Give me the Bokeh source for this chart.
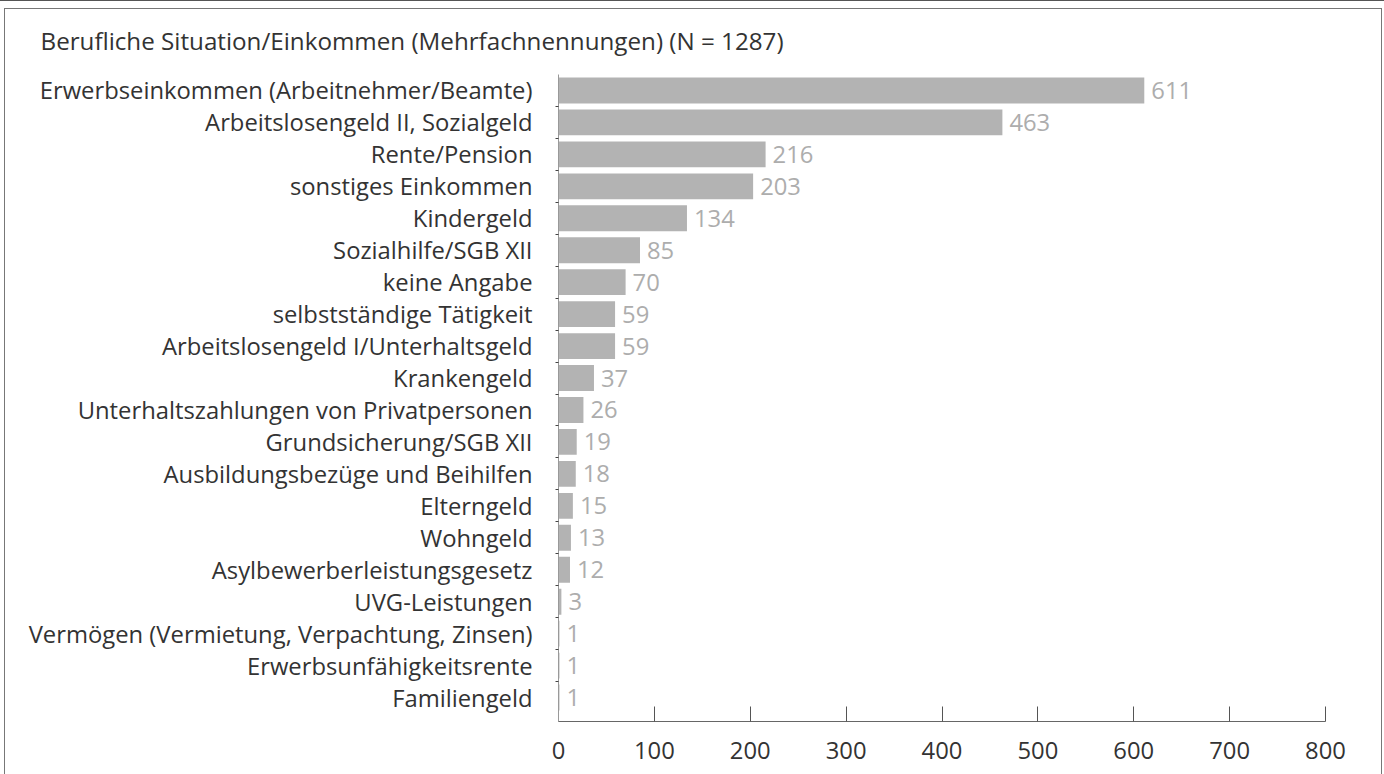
from bokeh.plotting import figure
from bokeh.models import FixedTicker, Range1d, ColumnDataSource
from bokeh.core.properties import value
from bokeh.embed import file_html
from bokeh.resources import INLINE

title_text = "Berufliche Situation/Einkommen (Mehrfachnennungen) (N = 1287)"
categories = [
    "Erwerbseinkommen (Arbeitnehmer/Beamte)",
    "Arbeitslosengeld II, Sozialgeld",
    "Rente/Pension",
    "sonstiges Einkommen",
    "Kindergeld",
    "Sozialhilfe/SGB XII",
    "keine Angabe",
    "selbstständige Tätigkeit",
    "Arbeitslosengeld I/Unterhaltsgeld",
    "Krankengeld",
    "Unterhaltszahlungen von Privatpersonen",
    "Grundsicherung/SGB XII",
    "Ausbildungsbezüge und Beihilfen",
    "Elterngeld",
    "Wohngeld",
    "Asylbewerberleistungsgesetz",
    "UVG-Leistungen",
    "Vermögen (Vermietung, Verpachtung, Zinsen)",
    "Erwerbsunfähigkeitsrente",
    "Familiengeld",
]
counts = [611, 463, 216, 203, 134, 85, 70, 59, 59, 37, 26, 19, 18, 15, 13, 12, 3, 1, 1, 1]
x_ticks = [0, 100, 200, 300, 400, 500, 600, 700, 800]

n = len(categories)
ypos = [n - 1 - i for i in range(n)]
src = ColumnDataSource(dict(y=ypos, v=counts, t=[str(c) for c in counts]))

FONT = "Open Sans"
FS = "23.8px"
FS_TITLE = "24.2px"

p = figure(width=1378, height=766, output_backend="svg", toolbar_location=None,
           x_range=Range1d(0, 800), y_range=Range1d(-0.75, n - 0.5),
           min_border_left=554, min_border_right=57, min_border_top=66, min_border_bottom=53,
           title=title_text)
p.styles = {"margin-left": "4px", "margin-top": "8px",
            "box-shadow": "inset 1px 1px 0 0 #777, inset -1px 0 0 0 #777, "
                          "0 -3px 0 4px #ffffff, 0 -4px 0 4px #555555"}
p.border_fill_color = None
p.background_fill_color = None
p.outline_line_color = None
p.grid.visible = False

p.title.text_font = FONT
p.title.text_font_size = FS_TITLE
p.title.text_font_style = "normal"
p.title.text_color = "#333333"
p.title.align = "left"
p.title.vertical_align = "top"
p.title.offset = -518
p.title.standoff = 31

p.hbar(y="y", right="v", left=0, height=0.81, source=src,
       fill_color="#b3b3b3", line_color=None)
p.text(x="v", y="y", text="t", source=src, x_offset=7, text_baseline="middle",
       text_align="left", text_font=value(FONT), text_font_size=FS, text_color="#adadad")

xa = p.xaxis[0]
xa.ticker = FixedTicker(ticks=x_ticks)
xa.axis_line_color = "#666666"
xa.major_tick_line_color = "#555555"
xa.major_tick_in = 15
xa.major_tick_out = 0
xa.minor_tick_line_color = None
xa.major_label_text_font = FONT
xa.major_label_text_font_size = FS
xa.major_label_text_color = "#333333"
xa.major_label_standoff = 20

ya = p.yaxis[0]
ya.ticker = FixedTicker(ticks=ypos, minor_ticks=[k + 0.5 for k in range(n - 1)])
ya.major_label_overrides = {float(y): c for y, c in zip(ypos, categories)}
ya.axis_line_color = "#999999"
ya.major_tick_line_color = None
ya.minor_tick_line_color = "#444444"
ya.minor_tick_out = 3
ya.minor_tick_in = 0
ya.major_label_text_font = FONT
ya.major_label_text_font_size = FS
ya.major_label_text_color = "#333333"
ya.major_label_standoff = 20

open("out.html", "w").write(file_html(p, INLINE))
